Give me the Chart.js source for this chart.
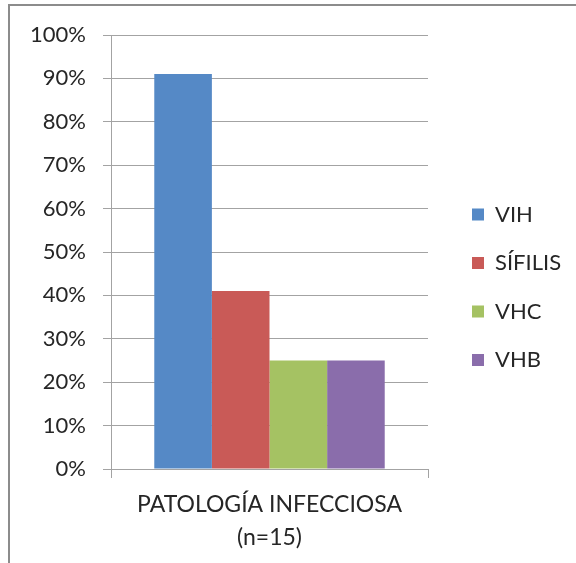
<!DOCTYPE html>
<html>
<head>
<meta charset="utf-8">
<script src="https://cdn.jsdelivr.net/npm/chart.js@4"></script>
<style>
  html, body { margin: 0; padding: 0; background: #fff; overflow: hidden; }
  #wrap { position: relative; width: 576px; height: 563px; }
  #chart { position: absolute; left: 0; top: 0; }
  #frame {
    position: absolute; left: 8px; top: 4px; width: 600px; height: 600px;
    border-left: 2px solid #8c8c8c; border-top: 2px solid #8c8c8c;
    pointer-events: none;
  }
</style>
</head>
<body>
<div id="wrap">
  <canvas id="chart" width="576" height="563"></canvas>
  <div id="frame"></div>
</div>
<script>
const categories = [['PATOLOGÍA INFECCIOSA', '(n=15)']];
const seriesNames = ['VIH', 'SÍFILIS', 'VHC', 'VHB'];
const seriesValues = [91, 41, 25, 25];
const seriesColors = ['#5589c6', '#c95a57', '#a5c263', '#8a6dab'];
const yMin = 0;
const yMax = 100;
const yStep = 10;

const fontFamily = 'Lato, "Open Sans", sans-serif';
const textColor = '#262626';
const gridColor = '#a3a3a3';

// layout targets (pixels)
const plotRight = 428;
const legendBoxX = 472;
const legendSize = 22;
const legendPad = 26.5;
const legendBox = 12;

// legend width = padding + box + fontSize/2 + widest text + 10 (Chart.js vertical legend)
const mctx = document.createElement('canvas').getContext('2d');
mctx.font = 'normal normal ' + legendSize + 'px ' + fontFamily;
const widest = Math.max(...seriesNames.map(n => mctx.measureText(n).width));
const legendWidth = legendPad + legendBox + legendSize / 2 + widest + 10;
const legendLeft = legendBoxX - legendPad;
const gapWidth = legendLeft - plotRight;
const padRight = Math.max(0, 576 - legendLeft - legendWidth);

const datasets = seriesNames.map((name, i) => ({
  label: name,
  data: [seriesValues[i]],
  backgroundColor: seriesColors[i],
  borderWidth: 0,
  barPercentage: 1,
  categoryPercentage: 0.727
}));

new Chart(document.getElementById('chart').getContext('2d'), {
  type: 'bar',
  data: { labels: categories, datasets: datasets },
  options: {
    responsive: false,
    animation: false,
    layout: { padding: { left: 20, right: padRight, top: 35, bottom: 9 } },
    plugins: {
      tooltip: { enabled: false },
      legend: {
        position: 'right',
        align: 'start',
        maxWidth: 300,
        title: {
          display: true,
          text: ' ',
          font: { size: 10, lineHeight: 1 },
          padding: { top: 0, bottom: 132 }
        },
        labels: {
          boxWidth: legendBox,
          boxHeight: legendBox,
          padding: legendPad,
          color: textColor,
          font: { family: fontFamily, size: legendSize }
        }
      }
    },
    scales: {
      x: {
        grid: { drawOnChartArea: false, color: gridColor, tickLength: 9, offset: true },
        border: { color: gridColor },
        ticks: {
          color: textColor,
          padding: 10,
          font: { family: fontFamily, size: 23, lineHeight: '33px' }
        },
        afterFit: s => { s.height = 85; }
      },
      y: {
        min: yMin,
        max: yMax,
        grid: { color: gridColor, tickLength: 8 },
        border: { color: gridColor },
        ticks: {
          stepSize: yStep,
          color: textColor,
          padding: 17,
          font: { family: fontFamily, size: 22 },
          callback: v => v + '%'
        },
        afterFit: s => { s.width = 91; }
      },
      gap: {
        position: 'right',
        grid: { display: false },
        border: { display: false },
        ticks: { display: false },
        afterFit: s => { s.width = gapWidth; }
      }
    }
  }
});
</script>
</body>
</html>
